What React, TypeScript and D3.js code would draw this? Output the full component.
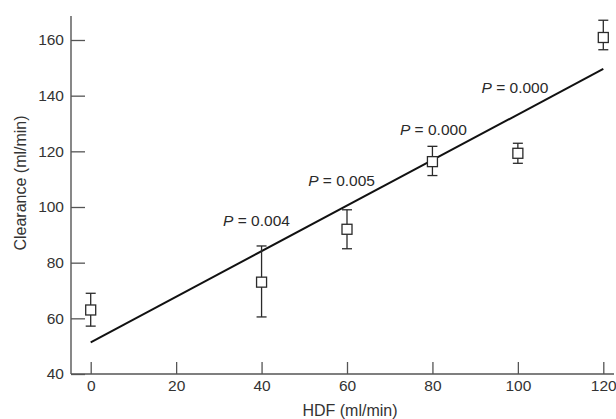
import React, { useRef, useEffect } from "react";
import * as d3 from "d3";

// HDF flow rate vs clearance, mean with error bars
const hdf = [0, 40, 60, 80, 100, 120];
const clearance = [63, 73, 92, 116.3, 119.3, 160.9];
const errHigh = [69, 86, 99, 121.8, 122.9, 167.1];
const errLow = [57.2, 60.5, 85, 111.3, 115.7, 156.5];

// regression line end points
const fitX = [0, 120];
const fitY = [51.4, 149.6];

// P value annotations (data coordinates of text start / baseline)
const pValues = ["0.004", "0.005", "0.000", "0.000"];
const pX = [31.0, 50.9, 72.4, 91.5];
const pY = [93.2, 107.5, 125.7, 140.8];

const xTicks = [0, 20, 40, 60, 80, 100, 120];
const yTicks = [40, 60, 80, 100, 120, 140, 160];

function App() {
  const ref = useRef<SVGSVGElement>(null);

  useEffect(() => {
    const svg = d3.select(ref.current);
    svg.selectAll("*").remove();

    const x = d3.scaleLinear().domain([0, 120]).range([90.7, 603.3]);
    const y = d3.scaleLinear().domain([40, 160]).range([374, 40]);
    const font = "'Liberation Sans', Arial, sans-serif";
    const ink = "#2a2a2a";

    // y axis
    const ya = svg
      .append("g")
      .attr("transform", "translate(71,0)")
      .call(d3.axisLeft(y).tickValues(yTicks).tickSize(-14).tickPadding(7));
    ya.select(".domain").remove();
    svg.append("line").attr("x1", 71).attr("x2", 71).attr("y1", 16).attr("y2", 374)
      .attr("stroke", "#555").attr("stroke-width", 1.4);

    // x axis
    const xa = svg
      .append("g")
      .attr("transform", "translate(0,374)")
      .call(d3.axisBottom(x).tickValues(xTicks).tickSize(-12).tickPadding(6));
    xa.select(".domain").remove();
    svg.append("line").attr("x1", 71).attr("x2", 614).attr("y1", 374).attr("y2", 374)
      .attr("stroke", "#555").attr("stroke-width", 1.4);

    [ya, xa].forEach((g) => {
      g.selectAll("line").attr("stroke", "#555").attr("stroke-width", 1.3);
      g.selectAll("text").attr("fill", "#333").style("font-family", font).style("font-size", "15.5px");
    });

    // axis titles
    svg.append("text")
      .attr("x", 350).attr("y", 416)
      .attr("text-anchor", "middle")
      .attr("fill", "#333").style("font-family", font).style("font-size", "16px")
      .text("HDF (ml/min)");
    svg.append("text")
      .attr("transform", "translate(26,183) rotate(-90)")
      .attr("text-anchor", "middle")
      .attr("fill", "#333").style("font-family", font).style("font-size", "16px")
      .text("Clearance (ml/min)");

    // regression line
    const line = d3.line<number>().x((d) => x(d)).y((_, i) => y(fitY[i]));
    svg.append("path").attr("d", line(fitX)).attr("fill", "none")
      .attr("stroke", "#111").attr("stroke-width", 2);

    // error bars and squares
    const pts = svg.append("g").attr("stroke", ink).attr("stroke-width", 1.3).attr("fill", "white");
    hdf.forEach((h, i) => {
      const cx = x(h);
      pts.append("line").attr("x1", cx).attr("x2", cx).attr("y1", y(errHigh[i])).attr("y2", y(errLow[i]));
      [errHigh[i], errLow[i]].forEach((v) => {
        pts.append("line").attr("x1", cx - 5).attr("x2", cx + 5).attr("y1", y(v)).attr("y2", y(v));
      });
      pts.append("rect").attr("x", cx - 5).attr("y", y(clearance[i]) - 5)
        .attr("width", 10).attr("height", 10);
    });

    // P labels
    pValues.forEach((p, i) => {
      const t = svg.append("text")
        .attr("x", x(pX[i])).attr("y", y(pY[i]))
        .attr("fill", ink).style("font-family", font).style("font-size", "15.5px");
      t.append("tspan").style("font-style", "italic").text("P");
      t.append("tspan").text(" = " + p);
    });
  }, []);

  return (
    <svg ref={ref} width={616} height={419}
      style={{ position: "absolute", left: 0, top: 0, background: "#fff" }} />
  );
}

export default App;
